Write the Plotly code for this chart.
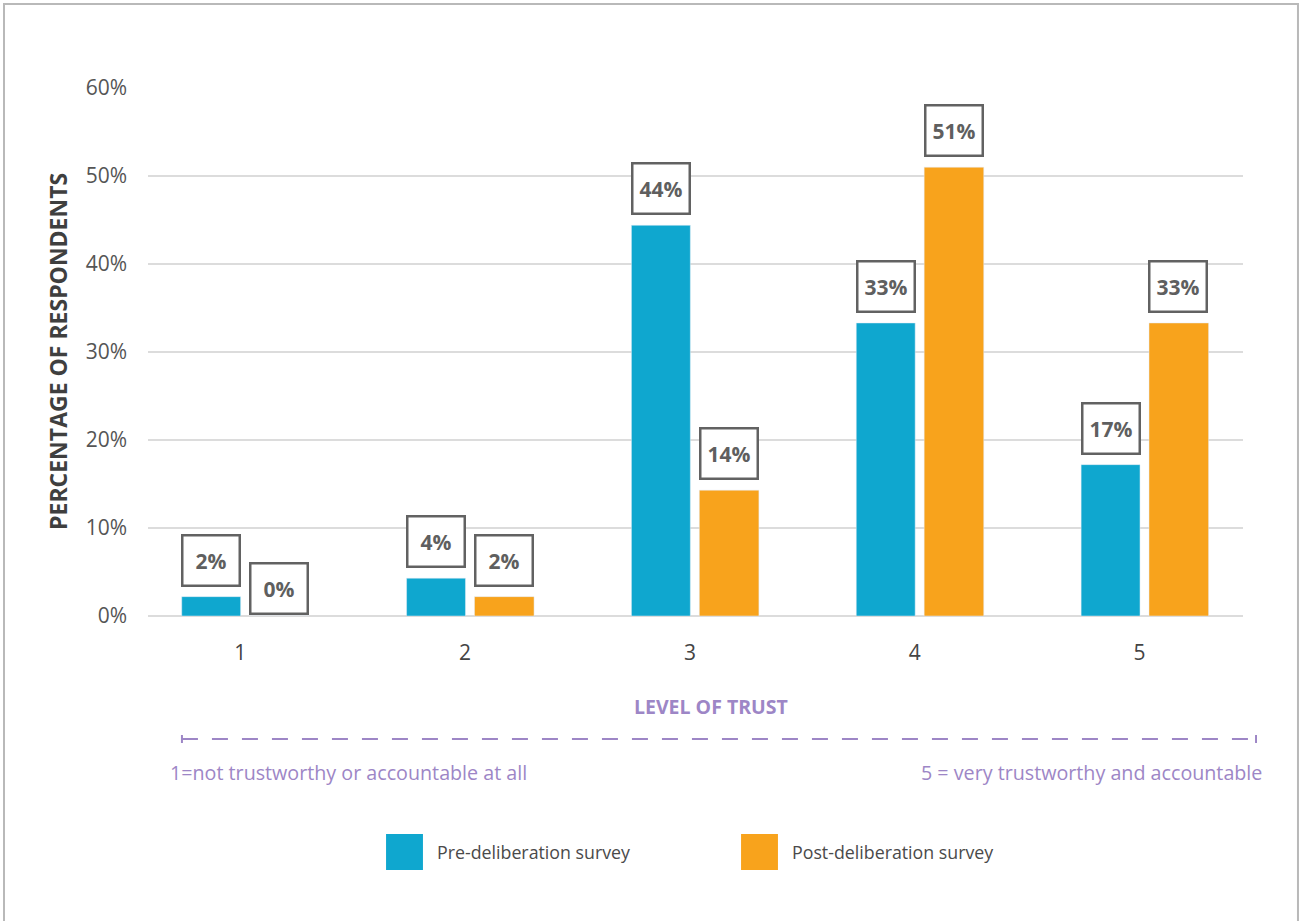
import plotly.graph_objects as go

categories = ["1", "2", "3", "4", "5"]
pre_values = [2.2, 4.3, 44.4, 33.3, 17.2]
post_values = [0.0, 2.2, 14.3, 51.0, 33.3]
pre_labels = ["2%", "4%", "44%", "33%", "17%"]
post_labels = ["0%", "2%", "14%", "51%", "33%"]
series_names = ["Pre-deliberation survey", "Post-deliberation survey"]
y_ticks = [0, 10, 20, 30, 40, 50, 60]
y_ticklabels = ["0%", "10%", "20%", "30%", "40%", "50%", "60%"]

BLUE = "#0fa7cf"
ORANGE = "#f8a31c"
PURPLE = "#9d86c6"
GRAY_TXT = "#4a4a4a"
BOX = "#626262"

xs = list(range(len(categories)))
W = 0.262
OFF_PRE = -0.26
OFF_POST = 0.042

fig = go.Figure()
fig.add_trace(go.Bar(x=xs, y=pre_values, name=series_names[0], marker_color=BLUE,
                     width=W, offset=OFF_PRE, showlegend=False))
fig.add_trace(go.Bar(x=xs, y=post_values, name=series_names[1], marker_color=ORANGE,
                     width=W + 0.003, offset=OFF_POST, showlegend=False))

ann = []
for vals, labs, off in [(pre_values, pre_labels, OFF_PRE), (post_values, post_labels, OFF_POST)]:
    for i, (v, t) in enumerate(zip(vals, labs)):
        ann.append(dict(x=i + off + W / 2, y=v, xref="x", yref="y", text=t, showarrow=False,
                        yanchor="bottom", yshift=10 if v > 0 else 1,
                        font=dict(family="Open Sans", size=21, color="#5f5f5f", weight="bold"),
                        width=51, height=44, borderpad=2, borderwidth=2.5,
                        bordercolor=BOX, bgcolor="white"))

# Axis titles and explanatory text
ann.append(dict(x=-0.0822, y=0.502, xref="paper", yref="paper", text="PERCENTAGE OF RESPONDENTS",
                textangle=-90, showarrow=False, xanchor="center", yanchor="middle",
                font=dict(family="Open Sans", size=23, color="#3f3f3f", weight="bold")))
ann.append(dict(x=0.514, y=-0.1705, xref="paper", yref="paper", text="LEVEL OF TRUST",
                showarrow=False, xanchor="center", yanchor="middle",
                font=dict(family="Open Sans", size=19.5, color=PURPLE, weight="bold")))
ann.append(dict(x=0.0183, y=-0.297, xref="paper", yref="paper",
                text="1=not trustworthy or accountable at all",
                showarrow=False, xanchor="left", yanchor="middle",
                font=dict(family="Open Sans", size=19.7, color=PURPLE)))
ann.append(dict(x=1.019, y=-0.297, xref="paper", yref="paper",
                text="5 = very trustworthy and accountable",
                showarrow=False, xanchor="right", yanchor="middle",
                font=dict(family="Open Sans", size=19.7, color=PURPLE)))
# legend text
ann.append(dict(x=0.2621, y=-0.447, xref="paper", yref="paper", text=series_names[0],
                showarrow=False, xanchor="left", yanchor="middle",
                font=dict(family="Open Sans", size=17.8, color=GRAY_TXT)))
ann.append(dict(x=0.5863, y=-0.447, xref="paper", yref="paper", text=series_names[1],
                showarrow=False, xanchor="left", yanchor="middle",
                font=dict(family="Open Sans", size=17.8, color=GRAY_TXT)))

shapes = [
    # outer frame
    dict(type="rect", xref="paper", yref="paper", x0=-0.1315, x1=1.0502, y0=-0.6, y1=1.159,
         line=dict(color="#b9b9b9", width=2), fillcolor="rgba(0,0,0,0)", layer="below"),
    # dashed scale line
    dict(type="line", xref="paper", yref="paper", x0=0.031, x1=1.0119, y0=-0.233, y1=-0.233,
         line=dict(color=PURPLE, width=2, dash="16px,14px")),
    dict(type="line", xref="paper", yref="paper", x0=0.031, x1=0.031, y0=-0.2254, y1=-0.2405,
         line=dict(color=PURPLE, width=2)),
    dict(type="line", xref="paper", yref="paper", x0=1.0119, x1=1.0119, y0=-0.2254, y1=-0.2405,
         line=dict(color=PURPLE, width=2)),
    # legend swatches
    dict(type="rect", xref="paper", yref="paper", x0=0.2174, x1=0.2511, y0=-0.481, y1=-0.4129,
         line=dict(width=0), fillcolor=BLUE),
    dict(type="rect", xref="paper", yref="paper", x0=0.5416, x1=0.5753, y0=-0.481, y1=-0.4129,
         line=dict(width=0), fillcolor=ORANGE),
]

fig.update_layout(
    width=1303, height=921,
    margin=dict(l=148, r=60, t=88, b=305),
    paper_bgcolor="white", plot_bgcolor="white",
    barmode="overlay",
    annotations=ann, shapes=shapes,
    xaxis=dict(range=[-0.41, 4.46], tickmode="array", tickvals=xs, ticktext=categories,
               showgrid=False, zeroline=False, showline=False, ticks="", ticklabelstandoff=22,
               tickfont=dict(family="Open Sans", size=21, color="#444444")),
    yaxis=dict(range=[0, 60], tickmode="array", tickvals=y_ticks, ticktext=y_ticklabels,
               showgrid=True, gridcolor="#dcdcdc", gridwidth=2, zeroline=True,
               zerolinecolor="#dcdcdc", zerolinewidth=2, ticks="", ticklabelstandoff=20,
               tickfont=dict(family="Open Sans", size=21, color="#555555")),
)

fig.write_html("out.html")
